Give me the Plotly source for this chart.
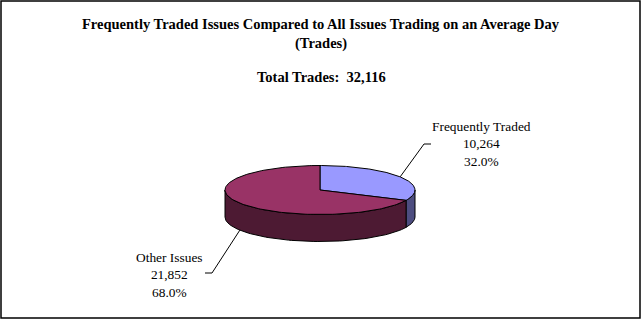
import numpy as np
import plotly.graph_objects as go

# ---- data ----
categories = ["Frequently Traded", "Other Issues"]
trades = [10264, 21852]
total_trades = 32116
title_lines = ["Frequently Traded Issues Compared to All Issues Trading on an Average Day", "(Trades)"]

# ---- layout constants (pixel space) ----
W, H = 642, 320
CX, CY = 320, 190
RX, RY = 95, 24.5
DEPTH = 27
top_colors = ["#9999FF", "#993366"]
side_colors = ["#4D4D80", "#4D1A33"]
serif = "Liberation Serif, Times New Roman, serif"

vals = np.array(trades, dtype=float)
fracs = vals / vals.sum()
# slices go clockwise from 12 o'clock
starts = 90 - 360 * np.concatenate([[0], np.cumsum(fracs)[:-1]])
ends = starts - 360 * fracs


def pt(deg, dy=0.0):
    t = np.radians(deg)
    return CX + RX * np.cos(t), CY - RY * np.sin(t) + dy


fig = go.Figure()

# side walls (front half: angles between -180 and 0)
for i in range(len(vals)):
    a_hi, a_lo = starts[i], ends[i]
    segs = []
    for shift in (0, 360, -360):
        hi, lo = a_hi + shift, a_lo + shift
        s_hi, s_lo = min(hi, 0), max(lo, -180)
        if s_hi > s_lo:
            segs.append((s_hi, s_lo))
    for s_hi, s_lo in segs:
        ts = np.linspace(s_hi, s_lo, 80)
        xt, yt = pt(ts)
        xb, yb = pt(ts[::-1], DEPTH)
        xs = np.concatenate([xt, xb, xt[:1]])
        ys = np.concatenate([yt, yb, yt[:1]])
        fig.add_trace(go.Scatter(x=xs, y=ys, mode="lines", fill="toself",
                                 fillcolor=side_colors[i],
                                 line=dict(color="black", width=1),
                                 hoverinfo="skip", showlegend=False))

# top faces
for i in range(len(vals)):
    ts = np.linspace(starts[i], ends[i], 150)
    xa, ya = pt(ts)
    xs = np.concatenate([[CX], xa, [CX]])
    ys = np.concatenate([[CY], ya, [CY]])
    fig.add_trace(go.Scatter(x=xs, y=ys, mode="lines", fill="toself",
                             fillcolor=top_colors[i],
                             line=dict(color="black", width=1),
                             hoverinfo="text", text=categories[i],
                             showlegend=False))

# labels with leader lines
label_pos = [(481, 144), (169, 275)]
elbow = [(424, 144), (212, 273)]
tail = [(431, 144), (205, 273)]
for i in range(len(vals)):
    mid = (starts[i] + ends[i]) / 2
    sx, sy = pt(mid)
    if np.sin(np.radians(mid)) < 0:
        sy += DEPTH
    fig.add_trace(go.Scatter(x=[sx, elbow[i][0], tail[i][0]],
                             y=[sy, elbow[i][1], tail[i][1]],
                             mode="lines", line=dict(color="black", width=1),
                             hoverinfo="skip", showlegend=False))
    txt = f"{categories[i]}<br>{trades[i]:,}<br>{fracs[i]*100:.1f}%"
    fig.add_annotation(x=label_pos[i][0], y=label_pos[i][1], text=txt,
                       showarrow=False, xanchor="center", yanchor="middle",
                       align="center",
                       font=dict(family=serif, size=13.4, color="black"))

# titles
TS = 14.5
fig.add_annotation(x=W / 2, y=24, text=f"<b>{title_lines[0]}</b>", showarrow=False,
                   xanchor="center", yanchor="middle",
                   font=dict(family=serif, size=TS, color="black"))
fig.add_annotation(x=W / 2, y=43, text=f"<b>{title_lines[1]}</b>", showarrow=False,
                   xanchor="center", yanchor="middle",
                   font=dict(family=serif, size=TS, color="black"))
fig.add_annotation(x=W / 2, y=77, text=f"<b>Total Trades:\u00a0\u00a0{total_trades:,}</b>",
                   showarrow=False, xanchor="center", yanchor="middle",
                   font=dict(family=serif, size=TS, color="black"))

# outer border
fig.add_shape(type="rect", xref="x", yref="y", x0=1, y0=1, x1=640, y1=318,
              line=dict(color="black", width=1.5), fillcolor="rgba(0,0,0,0)")

fig.update_layout(
    width=W, height=H, margin=dict(l=0, r=0, t=0, b=0),
    paper_bgcolor="white", plot_bgcolor="white",
    xaxis=dict(range=[0, W], visible=False, fixedrange=True),
    yaxis=dict(range=[H, 0], visible=False, fixedrange=True),
    showlegend=False,
)

fig.write_html("out.html", config={"displayModeBar": False})
